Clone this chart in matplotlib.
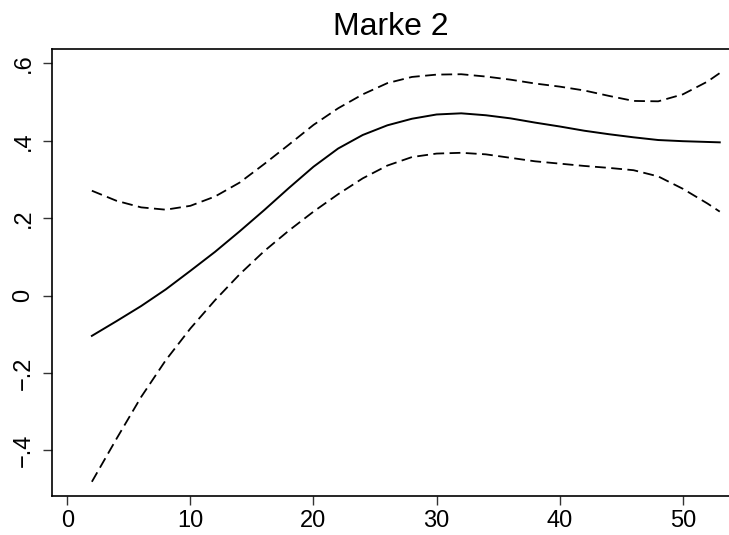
import matplotlib
matplotlib.use("Agg")
import matplotlib.pyplot as plt

plt.rcParams['font.family'] = ['Liberation Sans', 'DejaVu Sans']

# values
x = [2, 4, 6, 8, 10, 12, 14, 16, 18, 20, 22, 24, 26, 28, 30, 32, 34, 36, 38,
     40, 42, 44, 46, 48, 50, 52, 53]
fit = [-0.104, -0.066, -0.027, 0.016, 0.064, 0.113, 0.166, 0.221, 0.278, 0.333,
       0.380, 0.415, 0.440, 0.457, 0.468, 0.471, 0.466, 0.458, 0.447, 0.437,
       0.426, 0.417, 0.409, 0.402, 0.399, 0.397, 0.396]
upper = [0.271, 0.245, 0.228, 0.222, 0.232, 0.256, 0.292, 0.340, 0.390, 0.441,
         0.484, 0.520, 0.549, 0.565, 0.571, 0.572, 0.566, 0.558, 0.548, 0.540,
         0.530, 0.516, 0.503, 0.502, 0.520, 0.553, 0.575]
lower = [-0.481, -0.370, -0.262, -0.167, -0.085, -0.012, 0.055, 0.115, 0.168,
         0.217, 0.262, 0.303, 0.336, 0.358, 0.367, 0.369, 0.365, 0.356, 0.347,
         0.341, 0.335, 0.330, 0.324, 0.308, 0.276, 0.238, 0.217]

xticks = [0, 10, 20, 30, 40, 50]
yticks = [-0.4, -0.2, 0, 0.2, 0.4, 0.6]
ylabels = ["\u2212.4", "\u2212.2", "0", ".2", ".4", ".6"]

fig = plt.figure(figsize=(7.29, 5.35), dpi=100)
ax = fig.add_axes([0.0713, 0.072, 0.9287, 0.837])

ax.plot(x, fit, color='black', lw=1.4)
ax.plot(x, upper, color='black', lw=1.3, dashes=(6, 3))
ax.plot(x, lower, color='black', lw=1.3, dashes=(6, 3))

ax.set_xlim(-1.24, 53.75)
ax.set_ylim(-0.519, 0.638)
ax.set_xticks(xticks)
ax.set_yticks(yticks)
ax.set_yticklabels(ylabels, rotation=90, va='center')
ax.tick_params(labelsize=17, length=6.5, width=1, color='#333333', pad=3)
ax.tick_params(axis='y', pad=6)
ax.spines['right'].set_visible(False)
for s in ['left', 'top', 'bottom']:
    ax.spines[s].set_linewidth(1.2)

ax.set_title("Marke 2", fontsize=23, pad=10)

fig.savefig("out.png", dpi=100)
